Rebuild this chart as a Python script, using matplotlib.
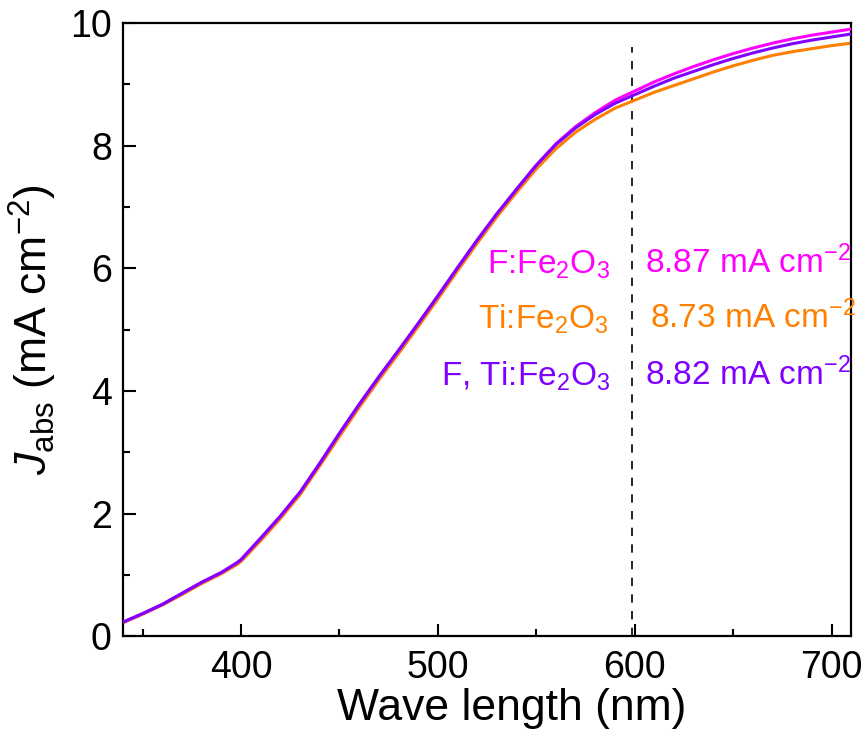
import matplotlib
matplotlib.use("Agg")
import matplotlib.pyplot as plt
from matplotlib.ticker import MultipleLocator

plt.rcParams['font.family'] = ['Liberation Sans', 'DejaVu Sans']
plt.rcParams['mathtext.fontset'] = 'custom'
plt.rcParams['mathtext.rm'] = 'Liberation Sans'
plt.rcParams['mathtext.it'] = 'Liberation Sans:italic'
plt.rcParams['mathtext.bf'] = 'Liberation Sans:bold'

wavelength = [340, 350, 360, 370, 380, 390, 398, 400, 410, 420, 430, 440, 450,
              460, 470, 480, 490, 500, 510, 520, 530, 540, 550, 560, 570, 580,
              590, 600, 610, 620, 630, 640, 650, 660, 670, 680, 690, 700, 710]

j_f_ti = [0.23, 0.37, 0.52, 0.70, 0.88, 1.04, 1.20, 1.25, 1.60, 1.96, 2.35, 2.82, 3.31,
          3.78, 4.23, 4.66, 5.10, 5.55, 6.01, 6.46, 6.89, 7.29, 7.68, 8.02, 8.29, 8.51,
          8.69, 8.83, 8.97, 9.10, 9.21, 9.32, 9.42, 9.51, 9.59, 9.66, 9.72, 9.77, 9.82]

j_f = [0.23, 0.37, 0.52, 0.70, 0.88, 1.04, 1.20, 1.25, 1.60, 1.96, 2.35, 2.82, 3.31,
       3.78, 4.23, 4.66, 5.10, 5.55, 6.01, 6.46, 6.89, 7.29, 7.68, 8.03, 8.31, 8.54,
       8.74, 8.89, 9.04, 9.17, 9.29, 9.40, 9.50, 9.59, 9.67, 9.74, 9.80, 9.85, 9.90]

j_ti = [0.22, 0.36, 0.51, 0.68, 0.86, 1.02, 1.17, 1.22, 1.56, 1.92, 2.31, 2.78, 3.26,
        3.73, 4.18, 4.61, 5.05, 5.50, 5.96, 6.41, 6.84, 7.24, 7.62, 7.95, 8.22, 8.43,
        8.61, 8.74, 8.87, 8.98, 9.09, 9.20, 9.30, 9.39, 9.47, 9.53, 9.58, 9.63, 9.67]

labels = ['F:Fe$_2$O$_3$', 'Ti:Fe$_2$O$_3$', 'F, Ti:Fe$_2$O$_3$']
values = ['8.87 mA cm$^{-2}$', '8.73 mA cm$^{-2}$', '8.82 mA cm$^{-2}$']
colors = ['#ff00ff', '#ff8000', '#8000ff']

fig = plt.figure(figsize=(8.66, 7.39), dpi=100)
ax = fig.add_axes([0.142, 0.139, 0.841, 0.830])

ax.plot(wavelength, j_f, color=colors[0], lw=2.2, zorder=3)
ax.plot(wavelength, j_ti, color=colors[1], lw=2.2, zorder=2)
ax.plot(wavelength, j_f_ti, color=colors[2], lw=2.2, zorder=4)

ax.vlines(598.5, 0, 9.6, colors='black', linestyles=(0, (5, 5)), lw=1.2, zorder=1)

ax.set_xlim(340, 710)
ax.set_ylim(0, 10)
ax.xaxis.set_major_locator(MultipleLocator(100))
ax.xaxis.set_minor_locator(MultipleLocator(50))
ax.yaxis.set_major_locator(MultipleLocator(2))
ax.yaxis.set_minor_locator(MultipleLocator(1))
ax.tick_params(which='both', direction='in', width=1.5, labelsize=27)
ax.tick_params(which='major', length=9)
ax.tick_params(which='minor', length=5)
ax.tick_params(axis='x', pad=10)
ax.tick_params(axis='y', pad=8)
for s in ax.spines.values():
    s.set_linewidth(1.6)

ax.set_xlabel('Wave length (nm)', fontsize=32, labelpad=2)
ax.xaxis.set_label_coords(0.534, -0.085)
ax.set_ylabel('$J$$_{\\mathrm{abs}}$ (mA cm$^{-2}$)', fontsize=32, labelpad=8)

label_x = [587.5, 586.5, 587.5]
value_x = [605.3, 607.9, 605.3]
base_y = [5.92, 5.02, 4.09]
for lab, val, c, lx, vx, by in zip(labels, values, colors, label_x, value_x, base_y):
    ax.text(lx, by, lab, color=c, fontsize=24, ha='right', va='baseline')
    ax.text(vx, by, val, color=c, fontsize=24, ha='left', va='baseline')

fig.savefig('out.png', dpi=100)
